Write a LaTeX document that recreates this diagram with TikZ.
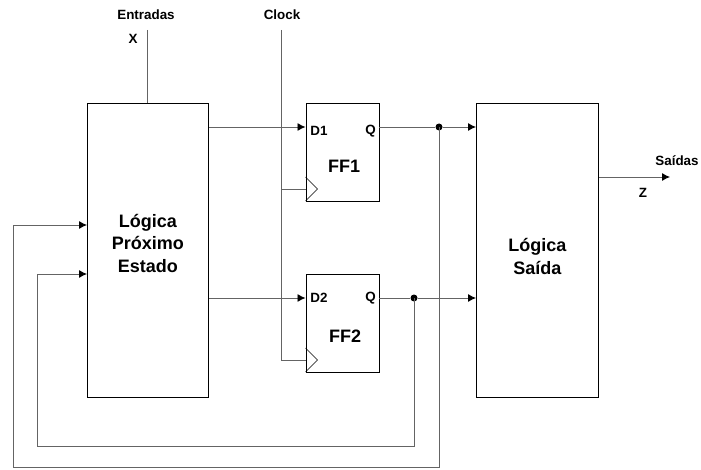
\documentclass[tikz,border=0pt]{standalone}
\usepackage{fontspec}
\setmainfont{Liberation Sans}
\usetikzlibrary{arrows.meta,calc}
\definecolor{wire}{RGB}{100,100,100}
\tikzset{
  blk/.style={draw=black,line width=0.9pt,fill=white,inner sep=0pt,anchor=north west},
  wire/.style={draw=wire,line width=0.9pt},
  arr/.style={wire,-{Latex[length=8pt,width=8pt,color=black]}},
  sml/.style={font=\fontsize{13.4}{15}\selectfont\bfseries,inner sep=0pt},
  big/.style={font=\fontsize{18}{22.5}\selectfont\bfseries,inner sep=0pt,align=center},
  dot/.style={circle,fill=black,inner sep=0pt,minimum size=7pt}
}
\begin{document}
\begin{tikzpicture}[x=1pt,y=-1pt]
\useasboundingbox (0,0) rectangle (701,470);
% blocks
\node[blk,minimum width=121pt,minimum height=294pt] (nsl) at (87,103) {};
\node[big] at ($(nsl.center)+(0,-7)$) {Lógica\\Próximo\\Estado};
\node[blk,minimum width=122pt,minimum height=294pt] (osl) at (476,103) {};
\node[big] at ($(osl.center)+(0,6)$) {Lógica\\Saída};
\node[blk,minimum width=73pt,minimum height=98pt] (ff1) at (305.5,103) {};
\node[blk,minimum width=73pt,minimum height=98pt] (ff2) at (305.5,274) {};
\node[big] at (344,166) {FF1};
\node[big] at (345,336) {FF2};
\node[sml] at (319,131) {D1};
\node[sml] at (370.5,131) {Q};
\node[sml] at (319,298) {D2};
\node[sml] at (370.5,298) {Q};
% clock triangles
\draw[black,line width=0.6pt] (305.5,177) -- (317.5,189) -- (305.5,201);
\draw[black,line width=0.6pt] (305.5,348) -- (317.5,360) -- (305.5,372);
% labels
\node[sml] (ent) at (146,15) {Entradas};
\node[sml] (xl) at (133,39) {X};
\node[sml] (clk) at (282,15) {Clock};
\node[sml] (sai) at (677,161) {Saídas};
\node[sml] (zl) at (643,193) {Z};
% coordinates
\coordinate (xin) at (147,30);
\coordinate (ckin) at (281,30);
\coordinate (ck1) at (281,189);
\coordinate (ck2) at (281,360);
\coordinate (zout) at (670,177);
% wires
\draw[wire] (xin) -- (xin |- nsl.north);
\draw[wire] (ckin) -- (ck2) -- (ck2 -| ff2.west);
\draw[wire] (ck1) -- (ck1 -| ff1.west);
\draw[arr] (nsl.east |- 0,127) -- (ff1.west |- 0,127);
\draw[arr] (nsl.east |- 0,298) -- (ff2.west |- 0,298);
\node[dot] (j1) at (439,127) {};
\node[dot] (j2) at (414,298) {};
\draw[wire] (ff1.east |- j1) -- (j1);
\draw[arr] (j1) -- (j1 -| osl.west);
\draw[wire] (ff2.east |- j2) -- (j2);
\draw[arr] (j2) -- (j2 -| osl.west);
\draw[arr] (osl.east |- zout) -- (zout);
% feedback
\draw[arr] (j1.center) -- (439,467) -- (13.5,467) -- (13.5,225) -- (nsl.west |- 0,225);
\draw[arr] (j2.center) -- (414,446) -- (37.5,446) -- (37.5,274) -- (nsl.west |- 0,274);
\end{tikzpicture}
\end{document}
